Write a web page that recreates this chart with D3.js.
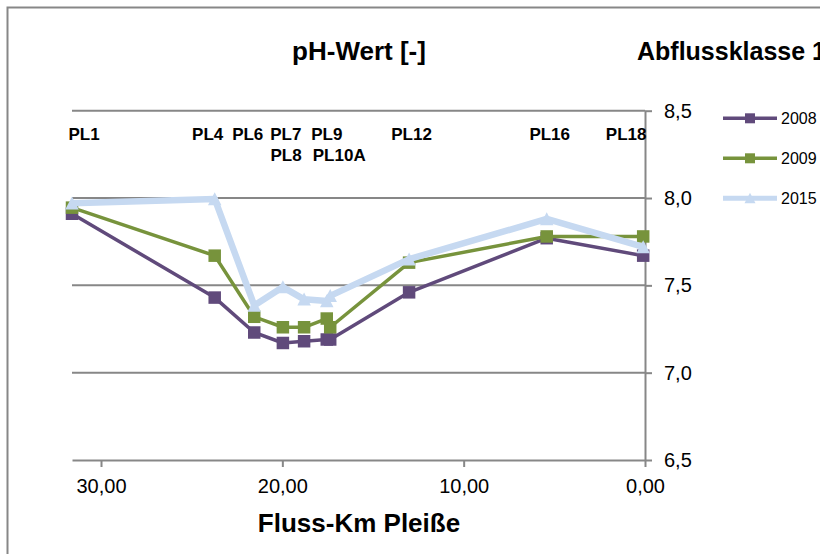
<!DOCTYPE html>
<html>
<head>
<meta charset="utf-8">
<script src="https://cdn.jsdelivr.net/npm/d3@7/dist/d3.min.js"></script>
<style>
  body { margin: 0; background: #fff; }
  svg { display: block; font-family: "Liberation Sans", Arial, sans-serif; }
</style>
</head>
<body>
<svg id="chart" width="820" height="554"></svg>
<script>
// Messstellen an der Pleiße, Flusskilometer und pH-Werte je Jahr
const stations = ["PL1", "PL4", "PL6", "PL7", "PL8", "PL9", "PL10A", "PL12", "PL16", "PL18"];
const riverKm  = [31.6, 23.73, 21.55, 19.97, 18.8, 17.55, 17.36, 13.01, 5.42, 0.1];
const ph2008   = [7.91, 7.43, 7.23, 7.17, 7.18, 7.19, 7.19, 7.46, 7.77, 7.67];
const ph2009   = [7.945, 7.67, 7.32, 7.26, 7.26, 7.31, 7.26, 7.63, 7.78, 7.78];
const ph2015   = [7.97, 7.995, 7.385, 7.49, 7.42, 7.41, 7.44, 7.65, 7.88, 7.72];
const years    = ["2008", "2009", "2015"];
const xTicks   = [30, 20, 10, 0];
const yTicks   = [6.5, 7.0, 7.5, 8.0, 8.5];

const svg = d3.select("#chart");
const W = 820, H = 554;
const plot = { left: 72, right: 645, top: 110.7, bottom: 460 };

const de = d3.formatLocale({ decimal: ",", thousands: ".", grouping: [3], currency: ["", " €"] });
const fmtX = de.format(".2f");
const fmtY = de.format(".1f");

const x = d3.scaleLinear().domain([31.6, 0]).range([plot.left, plot.right]);
const y = d3.scaleLinear().domain([6.5, 8.5]).range([plot.bottom, plot.top]);

const gridColor = "#878787";

// Diagrammrahmen (oben und links sichtbar)
svg.append("path")
  .attr("d", `M7.5,${H + 5} V7.5 H${W + 5}`)
  .attr("fill", "none").attr("stroke", gridColor).attr("stroke-width", 2);

// Titel
svg.append("text").attr("x", 359).attr("y", 60).attr("text-anchor", "middle")
  .attr("font-size", 26).attr("font-weight", "bold").text("pH-Wert [-]");
svg.append("text").attr("x", 637).attr("y", 60).attr("text-anchor", "start")
  .attr("font-size", 25).attr("font-weight", "bold").text("Abflussklasse 1");

// Hilfslinien
svg.append("g").selectAll("line")
  .data(yTicks.filter(v => v > 6.5))
  .join("line")
  .attr("x1", plot.left).attr("x2", plot.right)
  .attr("y1", d => y(d)).attr("y2", d => y(d))
  .attr("stroke", gridColor).attr("stroke-width", 2);

// Achsen
const xAxis = svg.append("g")
  .attr("transform", `translate(0,${plot.bottom})`)
  .call(d3.axisBottom(x).tickValues(xTicks).tickFormat(fmtX).tickSize(7).tickSizeOuter(0).tickPadding(12));
const yAxis = svg.append("g")
  .attr("transform", `translate(${plot.right},0)`)
  .call(d3.axisRight(y).tickValues(yTicks).tickFormat(fmtY).tickSize(7).tickSizeOuter(0).tickPadding(12));

[xAxis, yAxis].forEach(g => {
  g.select(".domain").attr("stroke", gridColor).attr("stroke-width", 2);
  g.selectAll(".tick line").attr("stroke", gridColor).attr("stroke-width", 2);
  g.selectAll(".tick text").attr("fill", "#000").attr("font-size", 20)
    .attr("font-family", "'Liberation Sans', Arial, sans-serif");
});

// Achsentitel
svg.append("text").attr("x", 359).attr("y", 531.5).attr("text-anchor", "middle")
  .attr("font-size", 26).attr("font-weight", "bold").text("Fluss-Km Pleiße");

// Messstellenbeschriftung (Zeile, horizontaler Versatz)
const labelLayout = {
  PL1: [0, 12], PL4: [0, -7], PL6: [0, -6.5], PL7: [0, 3], PL9: [0, 0],
  PL8: [1, -18], PL10A: [1, 9], PL12: [0, 2.5], PL16: [0, 3], PL18: [0, -17]
};
svg.append("g").selectAll("text")
  .data(stations.map((s, i) => ({ s, km: riverKm[i] })))
  .join("text")
  .attr("x", d => x(d.km) + labelLayout[d.s][1])
  .attr("y", d => 140 + labelLayout[d.s][0] * 21)
  .attr("text-anchor", "middle")
  .attr("font-size", 17).attr("font-weight", "bold")
  .text(d => d.s);

// Datenreihen
const series = [
  { name: years[0], values: ph2008, color: "#604A7B", width: 3.5, marker: "square" },
  { name: years[1], values: ph2009, color: "#77933C", width: 3.5, marker: "square" },
  { name: years[2], values: ph2015, color: "#C6D9F1", width: 6.5, marker: "triangle" }
];

const line = d3.line().x(d => x(d.km)).y(d => y(d.v));
function markerPath(type, s) {
  const h = s / 2;
  return type === "square"
    ? `M${-h},${-h}H${h}V${h}H${-h}Z`
    : `M0,${-h - 0.5}L${h + 0.5},${h}L${-h - 0.5},${h}Z`;
}

series.forEach(sr => {
  const pts = sr.values.map((v, i) => ({ km: riverKm[i], v }));
  const g = svg.append("g");
  g.append("path").datum(pts).attr("d", line)
    .attr("fill", "none").attr("stroke", sr.color).attr("stroke-width", sr.width)
    .attr("stroke-linejoin", "round");
  g.selectAll("path.m").data(pts).join("path").attr("class", "m")
    .attr("transform", d => `translate(${x(d.km)},${y(d.v)})`)
    .attr("d", markerPath(sr.marker, 12.5))
    .attr("fill", sr.color);
});

// Legende
const leg = svg.append("g");
series.forEach((sr, i) => {
  const ly = 118.3 + i * 40;
  leg.append("line").attr("x1", 723).attr("x2", 777).attr("y1", ly).attr("y2", ly)
    .attr("stroke", sr.color).attr("stroke-width", sr.name === "2015" ? 5 : 3.5);
  leg.append("path").attr("transform", `translate(750,${ly})`)
    .attr("d", markerPath(sr.marker, 10)).attr("fill", sr.color);
  leg.append("text").attr("x", 781).attr("y", ly + 5.5)
    .attr("font-size", 16).text(sr.name);
});
</script>
</body>
</html>
